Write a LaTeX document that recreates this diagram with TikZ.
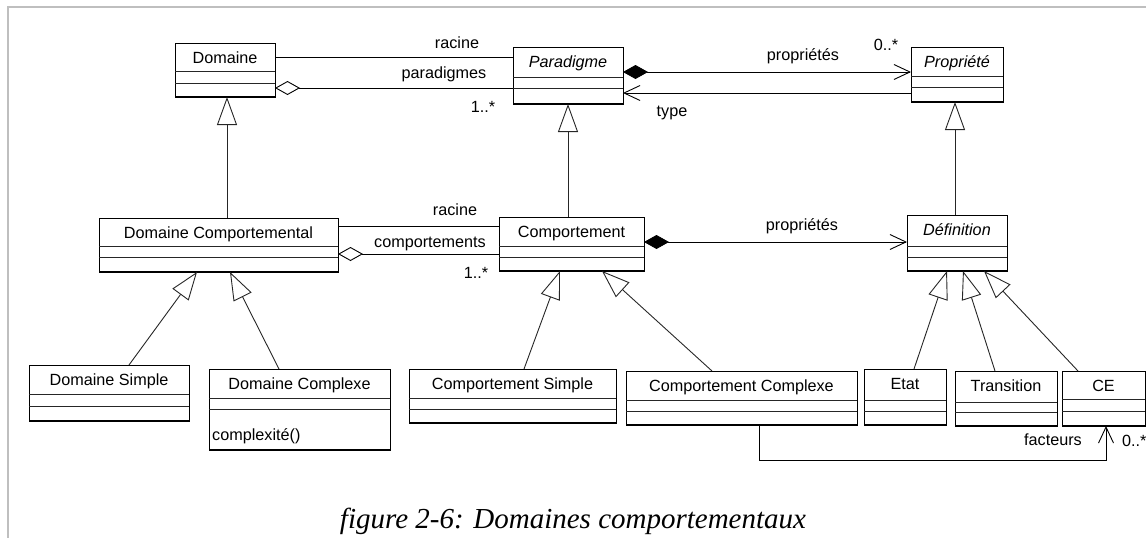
\documentclass[tikz,border=0pt]{standalone}
\usepackage{fontspec}
\setmainfont{Liberation Sans}
\newfontfamily\capfont{Liberation Serif}
\usetikzlibrary{arrows.meta,calc}

\newcommand{\umltext}{\fontsize{16.2}{19}\selectfont}

\tikzset{
  classbox/.style={draw=black, line width=1pt, fill=white, rectangle, inner sep=0pt, outer sep=0pt},
  classtitle/.style={anchor=base, inner sep=0pt, font=\umltext},
  divider/.style={draw=black!85, line width=1pt},
  bottomedge/.style={draw=black, line width=2pt},
  assoc/.style={draw=black, line width=0.9pt},
  lbl/.style={anchor=base, inner sep=0pt, font=\umltext},
  aggrtail/.style={{Diamond[open, length=25pt, width=14pt]}-},
  navhead/.style={-{Straight Barb[length=16pt, width=15pt]}},
  compnav/.style={{Diamond[length=25pt, width=14pt]}-{Straight Barb[length=16pt, width=15pt]}},
  inherit/.style={draw=black!85, line width=0.9pt, -{Triangle[open, length=28pt, width=20pt]}},
  frameline/.style={draw=black!25, line width=2pt},
  caption/.style={anchor=base, inner sep=0pt, font=\capfont\itshape\fontsize{29}{34}\selectfont}
}

% #1 name, #2 left, #3 top, #4 width, #5 height,
% #6 first divider, #7 second divider, #8 shape of the title, #9 title
\newcommand{\umlclass}[9]{%
  \node[classbox, anchor=north west, minimum width=#4, minimum height=#5] (#1) at (#2,#3) {};
  \node[classtitle] (#1-title) at ($(#1.north)+(0,20)$) {#8#9};
  \draw[divider] ($(#1.north west)+(0,#6)$) -- ($(#1.north east)+(0,#6)$);
  \draw[divider] ($(#1.north west)+(0,#7)$) -- ($(#1.north east)+(0,#7)$);
  \draw[bottomedge] (#1.south west) -- (#1.south east);
}

\begin{document}
\begin{tikzpicture}[x=1pt, y=-1pt]
  \useasboundingbox (0,0) rectangle (1146,538);

  % page frame
  \draw[frameline] (8,538) -- (8,6.5) -- (1146,6.5);

  % upper row
  \umlclass{dom}{175}{43}{100}{54}{28}{40}{}{Domaine}
  \umlclass{par}{513}{47}{110}{57}{30}{41}{\itshape}{Paradigme}
  \umlclass{prop}{911}{47}{92}{55}{29}{40}{\itshape}{Propriété}

  % middle row
  \umlclass{dcomp}{99}{218}{239}{54}{28}{39}{}{Domaine Comportemental}
  \umlclass{comp}{499}{217}{145}{54}{29}{40}{}{Comportement}
  \umlclass{def}{907}{215}{100}{56}{31}{42}{\itshape}{Définition}

  % lower row
  \umlclass{dsim}{29}{365}{160}{56}{29}{41}{}{Domaine Simple}
  \umlclass{dcx}{209}{369}{181}{81}{29}{40}{}{Domaine Complexe}
  \umlclass{csim}{409}{369}{207}{54}{29}{40}{}{Comportement Simple}
  \umlclass{ccx}{626}{371}{231}{54}{29}{40}{}{Comportement Complexe}
  \umlclass{etat}{864}{369}{82}{56}{31}{42}{}{Etat}
  \umlclass{trans}{955}{371}{102}{55}{31}{41}{}{Transition}
  \umlclass{ce}{1062}{371}{83}{55}{28}{40}{}{CE}
  \node[lbl, anchor=base west] (dcx-op) at ($(dcx.north west)+(3,71)$) {complexité()};

  % associations between Domaine, Paradigme and Propriété
  \draw[assoc] ($(dom.north east)+(0,14)$) coordinate (r1) -- (r1 -| par.west);
  \draw[assoc, aggrtail] ($(dom.south east)+(0,-9)$) coordinate (g1) -- (g1 -| par.west);
  \draw[assoc, compnav] ($(par.north east)+(0,25)$) coordinate (c1) -- (c1 -| prop.west);
  \draw[assoc, navhead] ($(prop.south west)+(0,-9)$) coordinate (t1) -- (t1 -| par.east);

  \node[lbl] (l-racine1) at (457,48) {racine};
  \node[lbl] (l-paradigmes) at (444,78) {paradigmes};
  \node[lbl] (l-mult1) at (483,112) {1..*};
  \node[lbl] (l-props1) at (803,60) {propriétés};
  \node[lbl] (l-mult2) at (886,50) {0..*};
  \node[lbl] (l-type) at (672,116) {type};

  % associations of the middle row
  \draw[assoc] ($(dcomp.north east)+(0,8)$) coordinate (r2) -- (r2 -| comp.west);
  \draw[assoc, aggrtail] ($(dcomp.south east)+(0,-18)$) coordinate (g2) -- (g2 -| comp.west);
  \draw[assoc, compnav] ($(comp.north east)+(0,25)$) coordinate (c2) -- (c2 -| def.west);

  \node[lbl] (l-racine2) at (455,215) {racine};
  \node[lbl] (l-comps) at (430,247) {comportements};
  \node[lbl] (l-mult3) at (476,278) {1..*};
  \node[lbl] (l-props2) at (802,230) {propriétés};

  % generalizations
  \draw[inherit] ($(dcomp.north west)+(128,0)$) -- ($(dom.south west)+(52,0)$);
  \draw[inherit] ($(comp.north west)+(69,0)$) -- ($(par.south west)+(55,0)$);
  \draw[inherit] ($(def.north west)+(48,0)$) -- ($(prop.south west)+(44,0)$);

  \draw[inherit] ($(dsim.north west)+(100,0)$) -- ($(dcomp.south west)+(98,0)$);
  \draw[inherit] ($(dcx.north west)+(70,0)$) -- ($(dcomp.south west)+(131,0)$);
  \draw[inherit] ($(csim.north west)+(115,0)$) -- ($(comp.south west)+(61,0)$);
  \draw[inherit] ($(ccx.north west)+(86,0)$) -- ($(comp.south west)+(103,0)$);
  \draw[inherit] ($(etat.north west)+(50,0)$) -- ($(def.south west)+(40,0)$);
  \draw[inherit] ($(trans.north west)+(40,0)$) -- ($(def.south west)+(56,0)$);
  \draw[inherit] ($(ce.north west)+(16,0)$) -- ($(def.south west)+(77,0)$);

  % Comportement Complexe -> CE
  \draw[assoc, navhead] ($(ccx.south west)+(133,0)$) -- ++(0,35) -| ($(ce.south west)+(44,0)$);
  \node[lbl] (l-facteurs) at (1053,445) {facteurs};
  \node[lbl, anchor=base west] (l-mult4) at (1122,446) {0..*};

  % caption
  \node[caption] (cap) at (573,528) {figure 2-6: Domaines comportementaux};
\end{tikzpicture}
\end{document}
